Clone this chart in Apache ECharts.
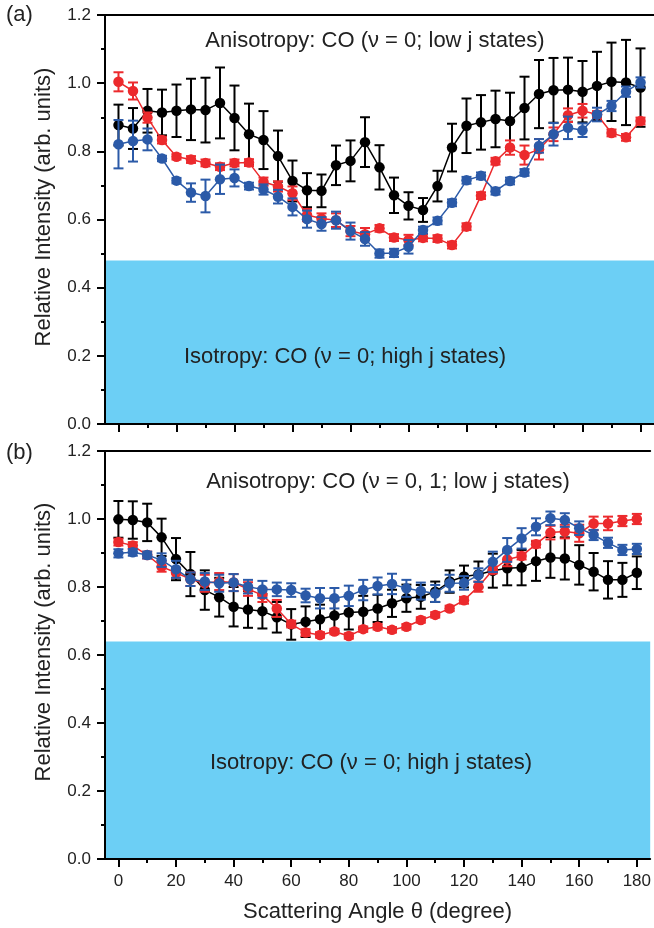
<!DOCTYPE html>
<html>
<head>
<meta charset="utf-8">
<script src="https://cdn.jsdelivr.net/npm/echarts@6/dist/echarts.min.js"></script>
<style>
html,body{margin:0;padding:0;background:#fff;}
#chart{width:654px;height:928px;}
</style>
</head>
<body>
<div id="chart"></div>
<script>
// ---------- data ----------
const angles = [0,5,10,15,20,25,30,35,40,45,50,55,60,65,70,75,80,85,90,95,100,105,110,115,120,125,130,135,140,145,150,155,160,165,170,175,180];

// Panel (a)
const aBlack = [0.877,0.867,0.919,0.914,0.919,0.923,0.921,0.942,0.898,0.850,0.833,0.786,0.713,0.686,0.684,0.759,0.772,0.827,0.753,0.671,0.640,0.628,0.698,0.811,0.875,0.885,0.895,0.889,0.927,0.968,0.979,0.981,0.975,0.992,1.004,1.002,0.987];
const aBlackErr = [0.060,0.060,0.064,0.067,0.077,0.090,0.095,0.104,0.095,0.090,0.085,0.075,0.060,0.050,0.048,0.058,0.060,0.073,0.065,0.052,0.040,0.035,0.045,0.070,0.080,0.080,0.083,0.083,0.092,0.100,0.095,0.094,0.090,0.100,0.115,0.125,0.115];
const aRed = [1.004,0.977,0.899,0.833,0.784,0.776,0.766,0.755,0.766,0.767,0.711,0.697,0.677,0.613,0.603,0.598,0.566,0.557,0.574,0.547,0.540,0.546,0.544,0.525,0.579,0.670,0.771,0.811,0.789,0.806,0.850,0.906,0.919,0.908,0.854,0.841,0.889];
const aRedErr = [0.028,0.025,0.015,0.010,0.008,0.010,0.010,0.010,0.010,0.010,0.012,0.015,0.020,0.018,0.015,0.020,0.015,0.018,0.010,0.010,0.015,0.010,0.010,0.010,0.010,0.010,0.010,0.021,0.028,0.030,0.020,0.020,0.020,0.010,0.010,0.010,0.010];
const aBlue = [0.821,0.830,0.835,0.779,0.714,0.679,0.669,0.718,0.722,0.698,0.688,0.667,0.637,0.601,0.587,0.598,0.566,0.543,0.500,0.502,0.520,0.569,0.596,0.649,0.715,0.728,0.683,0.713,0.738,0.816,0.850,0.869,0.862,0.908,0.933,0.975,1.002];
const aBlueErr = [0.071,0.060,0.032,0.008,0.008,0.027,0.048,0.043,0.025,0.010,0.015,0.020,0.025,0.025,0.020,0.025,0.025,0.020,0.012,0.012,0.020,0.010,0.010,0.010,0.010,0.010,0.010,0.010,0.010,0.020,0.033,0.033,0.020,0.020,0.015,0.015,0.015];
const aIsoLevel = 0.48;

// Panel (b)
const bBlack = [0.999,0.997,0.990,0.946,0.882,0.838,0.791,0.770,0.742,0.734,0.729,0.711,0.690,0.698,0.705,0.716,0.725,0.727,0.737,0.752,0.767,0.771,0.786,0.816,0.831,0.837,0.848,0.855,0.857,0.876,0.887,0.884,0.865,0.845,0.821,0.821,0.842];
const bBlackErr = [0.054,0.055,0.055,0.055,0.062,0.065,0.058,0.057,0.058,0.054,0.051,0.045,0.045,0.045,0.043,0.045,0.050,0.047,0.040,0.040,0.040,0.035,0.030,0.033,0.032,0.038,0.050,0.050,0.052,0.058,0.060,0.062,0.058,0.055,0.055,0.050,0.048];
const bRed = [0.932,0.922,0.894,0.860,0.842,0.823,0.811,0.816,0.813,0.794,0.776,0.737,0.691,0.666,0.659,0.669,0.656,0.676,0.683,0.674,0.683,0.703,0.718,0.737,0.761,0.801,0.850,0.881,0.891,0.926,0.960,0.963,0.958,0.987,0.987,0.994,1.000];
const bRedErr = [0.010,0.010,0.010,0.015,0.015,0.020,0.025,0.025,0.025,0.020,0.020,0.025,0.010,0.010,0.008,0.008,0.008,0.008,0.008,0.008,0.008,0.008,0.008,0.008,0.010,0.015,0.010,0.020,0.010,0.010,0.020,0.020,0.025,0.020,0.020,0.015,0.015];
const bBlue = [0.899,0.902,0.894,0.879,0.852,0.823,0.816,0.811,0.813,0.801,0.793,0.793,0.791,0.775,0.767,0.767,0.774,0.791,0.803,0.809,0.796,0.788,0.781,0.811,0.812,0.835,0.874,0.909,0.943,0.977,1.002,0.997,0.973,0.953,0.930,0.909,0.912];
const bBlueErr = [0.012,0.010,0.010,0.020,0.025,0.020,0.025,0.025,0.025,0.020,0.025,0.020,0.020,0.020,0.030,0.030,0.030,0.030,0.025,0.030,0.025,0.025,0.025,0.025,0.020,0.020,0.030,0.035,0.030,0.025,0.020,0.020,0.020,0.015,0.015,0.015,0.015];
const bIsoLevel = 0.64;

const xMajorTicks = [0,20,40,60,80,100,120,140,160,180];
const xMinorTicks = [10,30,50,70,90,110,130,150,170];
const yTickLabels = ['0.0','0.2','0.4','0.6','0.8','1.0','1.2'];

const textA1 = 'Anisotropy: CO (\u03bd = 0; low j states)';
const textA2 = 'Isotropy: CO (\u03bd = 0; high j states)';
const textB1 = 'Anisotropy: CO (\u03bd = 0, 1; low j states)';
const textB2 = 'Isotropy: CO (\u03bd = 0; high j states)';
const yTitle = 'Relative Intensity (arb. units)';
const xTitle = 'Scattering Angle \u03b8 (degree)';

// ---------- styling ----------
const FONT = 'Liberation Sans, Arial, sans-serif';
const C_BLACK = '#000000', C_RED = '#EC2A2D', C_BLUE = '#2B5AA8', C_CYAN = '#6CCFF5';
const XMIN = -4.65, XMAX = 184.65;

const chart = echarts.init(document.getElementById('chart'), null, {renderer:'canvas'});

const grids = [
  {left:105, top:15, width:549, height:409},
  {left:105, top:451, width:549, height:408}
];

function pts(vals){ return angles.map((a,i)=>[a, vals[i]]); }
function errs(vals, e){ return angles.map((a,i)=>[a, vals[i]-e[i], vals[i]+e[i]]); }

function errRender(color){
  return function(params, api){
    const x = api.value(0), lo = api.value(1), hi = api.value(2);
    const p1 = api.coord([x, hi]), p2 = api.coord([x, lo]);
    const hw = 5, st = {stroke:color, lineWidth:2};
    return {type:'group', children:[
      {type:'line', shape:{x1:p1[0], y1:p1[1], x2:p2[0], y2:p2[1]}, style:st},
      {type:'line', shape:{x1:p1[0]-hw, y1:p1[1], x2:p1[0]+hw, y2:p1[1]}, style:st},
      {type:'line', shape:{x1:p2[0]-hw, y1:p2[1], x2:p2[0]+hw, y2:p2[1]}, style:st}
    ]};
  };
}
function isoRender(params, api){
  const lvl = api.value(0);
  const top = api.coord([0, lvl])[1], bot = api.coord([0, 0])[1];
  const cs = params.coordSys;
  return {type:'rect', shape:{x:cs.x, y:top, width:cs.width, height:bot-top}, style:{fill:C_CYAN}};
}

const xAxes = [], yAxes = [], series = [];
[0,1].forEach(g=>{
  const base = {gridIndex:g, type:'value', min:XMIN, max:XMAX};
  xAxes.push(Object.assign({}, base, {
    position:'bottom',
    axisLine:{show:true, onZero:false, lineStyle:{color:'#000', width:2}},
    axisTick:{show:true, inside:false, length:8, lineStyle:{color:'#000', width:2}, customValues:xMajorTicks},
    axisLabel:{show:g===1, customValues:xMajorTicks, margin:14, fontFamily:FONT, fontSize:17, color:'#222'},
    splitLine:{show:false},
    name: g===1 ? xTitle : '', nameLocation:'middle', nameGap:42,
    nameTextStyle:{fontFamily:FONT, fontSize:22, color:'#222'}
  }));
  xAxes.push(Object.assign({}, base, {
    position:'bottom',
    axisLine:{show:false, onZero:false},
    axisTick:{show:true, inside:false, length:4, lineStyle:{color:'#000', width:2}, customValues:xMinorTicks},
    axisLabel:{show:false},
    splitLine:{show:false}
  }));
  xAxes.push(Object.assign({}, base, {
    position:'top',
    axisLine:{show:true, onZero:false, lineStyle:{color:'#000', width:2}},
    axisTick:{show:false}, axisLabel:{show:false}, splitLine:{show:false}
  }));
  yAxes.push({
    gridIndex:g, type:'value', min:0, max:1.2, interval:0.2, position:'left',
    axisLine:{show:true, onZero:false, lineStyle:{color:'#000', width:2}},
    axisTick:{show:true, inside:false, length:8, lineStyle:{color:'#000', width:2}},
    minorTick:{show:true, splitNumber:2, length:4, lineStyle:{color:'#000', width:2}},
    axisLabel:{margin:14, fontFamily:FONT, fontSize:17, color:'#222',
      formatter:(v)=>yTickLabels[Math.round(v/0.2)]},
    splitLine:{show:false}, minorSplitLine:{show:false}
  });
});

function addPanel(g, iso, blk, blkE, red, redE, blu, bluE){
  const xi = g*3, yi = g;
  series.push({type:'custom', xAxisIndex:xi, yAxisIndex:yi, renderItem:isoRender, data:[[iso]], z:0, silent:true, clip:false});
  const sets = [[blk,blkE,C_BLACK],[red,redE,C_RED],[blu,bluE,C_BLUE]];
  sets.forEach((s,k)=>{
    series.push({type:'line', xAxisIndex:xi, yAxisIndex:yi, data:pts(s[0]), symbol:'circle', symbolSize:10.5,
      showSymbol:true, lineStyle:{color:s[2], width:1.5}, itemStyle:{color:s[2]}, z:3+k*2, animation:false});
    series.push({type:'custom', xAxisIndex:xi, yAxisIndex:yi, renderItem:errRender(s[2]),
      encode:{x:0, y:[1,2]}, data:errs(s[0], s[1]), z:4+k*2, animation:false});
  });
}
addPanel(0, aIsoLevel, aBlack, aBlackErr, aRed, aRedErr, aBlue, aBlueErr);
addPanel(1, bIsoLevel, bBlack, bBlackErr, bRed, bRedErr, bBlue, bBlueErr);

const tstyle = (txt, size)=>({text:txt, font:size+'px '+FONT, fill:'#222'});
const graphic = [
  {type:'text', left:6, top:4, style:tstyle('(a)', 22)},
  {type:'text', left:6, top:442, style:tstyle('(b)', 22)},
  {type:'text', x:375, y:41, style:Object.assign(tstyle(textA1, 22), {align:'center', verticalAlign:'middle'}), z:10},
  {type:'text', x:345, y:357, style:Object.assign(tstyle(textA2, 22), {align:'center', verticalAlign:'middle'}), z:10},
  {type:'text', x:388, y:482, style:Object.assign(tstyle(textB1, 22), {align:'center', verticalAlign:'middle'}), z:10},
  {type:'text', x:371, y:763, style:Object.assign(tstyle(textB2, 22), {align:'center', verticalAlign:'middle'}), z:10},
  {type:'text', x:44, y:207, rotation:Math.PI/2, style:Object.assign(tstyle(yTitle, 22), {align:'center', verticalAlign:'middle'}), z:10},
  {type:'text', x:44, y:642, rotation:Math.PI/2, style:Object.assign(tstyle(yTitle, 22), {align:'center', verticalAlign:'middle'}), z:10}
];

chart.setOption({
  animation:false,
  backgroundColor:'#ffffff',
  grid:grids,
  xAxis:xAxes,
  yAxis:yAxes,
  series:series,
  graphic:graphic
});
</script>
</body>
</html>
